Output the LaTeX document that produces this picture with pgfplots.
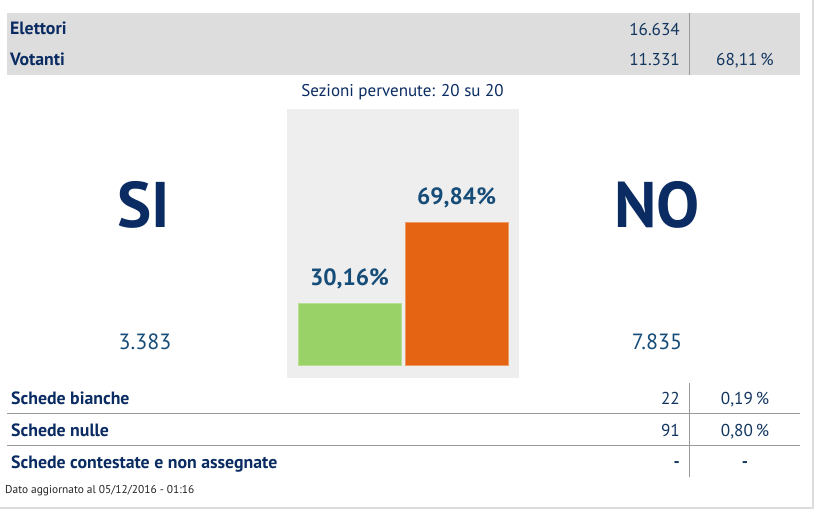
\documentclass[border=0pt]{standalone}
\usepackage{fontspec}
\setmainfont{PT Sans}
\usepackage{pgfplots}
\pgfplotsset{compat=1.18}
\definecolor{navy}{HTML}{0A2C62}
\definecolor{numc}{HTML}{13365F}
\definecolor{pctc}{HTML}{164C78}
\definecolor{boxg}{HTML}{DDDDDD}
\definecolor{chartbg}{HTML}{EEEEEE}
\definecolor{linec}{HTML}{9A9A9A}
\definecolor{greenbar}{HTML}{99D266}
\definecolor{orangebar}{HTML}{E56414}
\begin{document}
\begin{tikzpicture}[x=1pt,y=-1pt]
\useasboundingbox (0,0) rectangle (814,509);
\fill[white] (0,0) rectangle (814,509);
% outer border lines
\draw[boxg,line width=2pt] (813,0) -- (813,509);
\draw[boxg,line width=2pt] (0,508) -- (814,508);
% top table
\fill[boxg] (7,12.7) rectangle (800,74.7);
\draw[linec,line width=0.8pt] (689,12.7) -- (689,74.7);
\node[anchor=base west,inner sep=0,font=\fontsize{17.8}{20}\selectfont\bfseries,text=navy] at (10,34.7) {Elettori};
\node[anchor=base west,inner sep=0,font=\fontsize{17.8}{20}\selectfont\bfseries,text=navy] at (10,65.7) {Votanti};
\node[anchor=base east,inner sep=0,font=\fontsize{17.2}{19}\selectfont,text=numc] at (680,35.5) {16.634};
\node[anchor=base east,inner sep=0,font=\fontsize{17.2}{19}\selectfont,text=numc] at (680,65.7) {11.331};
\node[anchor=base,inner sep=0,font=\fontsize{17.2}{19}\selectfont,text=numc] at (745,65.7) {68,11\,\%};
\node[anchor=base,inner sep=0,font=\fontsize{17}{19}\selectfont,text=navy] at (402.5,96) {Sezioni pervenute: 20 su 20};
% chart background
\fill[chartbg] (287,108.5) rectangle (519,378);
% SI / NO
\node[anchor=base,inner sep=0,font=\fontsize{64.5}{70}\selectfont\bfseries,text=navy] at (144,227) {SI};
\node[anchor=base,inner sep=0,font=\fontsize{64.5}{70}\selectfont\bfseries,text=navy] at (657,227) {NO};
\node[anchor=base,inner sep=0,font=\fontsize{22}{25}\selectfont,text=pctc] at (145,349) {3.383};
\node[anchor=base,inner sep=0,font=\fontsize{22}{25}\selectfont,text=pctc] at (657,349) {7.835};
% bottom table
\draw[linec,line width=0.8pt] (7,413) -- (800,413);
\draw[linec,line width=0.8pt] (7,445) -- (800,445);
\draw[linec,line width=0.8pt] (689,383) -- (689,477);
\node[anchor=base west,inner sep=0,font=\fontsize{17.8}{20}\selectfont\bfseries,text=navy] at (11,404) {Schede bianche};
\node[anchor=base west,inner sep=0,font=\fontsize{17.8}{20}\selectfont\bfseries,text=navy] at (11,436) {Schede nulle};
\node[anchor=base west,inner sep=0,font=\fontsize{17.8}{20}\selectfont\bfseries,text=navy] at (11,468) {Schede contestate e non assegnate};
\node[anchor=base east,inner sep=0,font=\fontsize{17.2}{19}\selectfont,text=numc] at (680,404) {22};
\node[anchor=base,inner sep=0,font=\fontsize{17.2}{19}\selectfont,text=numc] at (745,404) {0,19\,\%};
\node[anchor=base east,inner sep=0,font=\fontsize{17.2}{19}\selectfont,text=numc] at (680,436) {91};
\node[anchor=base,inner sep=0,font=\fontsize{17.2}{19}\selectfont,text=numc] at (745,436) {0,80\,\%};
\node[anchor=base east,inner sep=0,font=\fontsize{17.2}{19}\selectfont\bfseries,text=numc] at (680,467) {-};
\node[anchor=base,inner sep=0,font=\fontsize{17.2}{19}\selectfont\bfseries,text=numc] at (745,467) {-};
\node[anchor=base west,inner sep=0,font=\fontsize{11.4}{13}\selectfont,text=black!85] at (5,493) {Dato aggiornato al 05/12/2016 - 01:16};
% bar chart
\begin{axis}[
  at={(287pt,-378pt)}, anchor=south west,
  scale only axis, width=232pt, height=269.5pt,
  xmin=-0.584, xmax=1.584, ymin=-6.36, ymax=125.5,
  hide axis, clip=false,
  every node near coord/.append style={anchor=base, yshift=18pt, inner sep=0pt,
     font=\fontsize{23.5}{27}\selectfont\bfseries, text=pctc},
]
\addplot[ybar, bar width=0.963, bar shift=0pt, fill=greenbar, draw=greenbar!70!white, line width=0.8pt,
  nodes near coords={30,16\%}] coordinates {(0,30.16)};
\addplot[ybar, bar width=0.963, bar shift=0pt, fill=orangebar, draw=orangebar!65!white, line width=0.8pt,
  nodes near coords={69,84\%}] coordinates {(1,69.84)};
\end{axis}
\end{tikzpicture}
\end{document}
